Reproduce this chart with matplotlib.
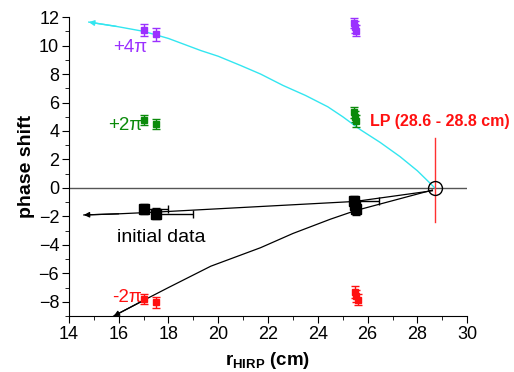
import matplotlib
matplotlib.use("Agg")
import matplotlib.pyplot as plt
from matplotlib.ticker import MultipleLocator

plt.rcParams['font.family'] = ['Liberation Sans', 'DejaVu Sans']

# ---- data ----
purple_x = [17.0, 17.5, 25.45, 25.5, 25.55]
purple_y = [11.1, 10.8, 11.6, 11.3, 11.05]
purple_e = [0.4, 0.45, 0.35, 0.4, 0.4]

green_x = [17.0, 17.5, 25.45, 25.5, 25.55]
green_y = [4.8, 4.5, 5.3, 5.0, 4.7]
green_e = [0.35, 0.35, 0.4, 0.4, 0.4]

black_x = [17.0, 17.5, 25.45, 25.5, 25.55]
black_y = [-1.5, -1.8, -0.95, -1.2, -1.5]
black_e = [0.35, 0.4, 0.35, 0.4, 0.4]
black_xerr_right = [1.0, 1.5, 1.0, 0.0, 0.0]

red_x = [17.0, 17.5, 25.5, 25.55, 25.6]
red_y = [-7.8, -8.05, -7.3, -7.6, -7.85]
red_e = [0.35, 0.4, 0.4, 0.4, 0.4]

cyan_x = [28.7, 28.0, 27.3, 26.5, 25.7, 25.0, 24.4, 23.5, 22.6, 21.7, 20.9, 20.0, 19.3, 18.0, 17.0, 15.9, 14.8]
cyan_y = [0.0, 1.2, 2.2, 3.2, 4.1, 5.0, 5.7, 6.5, 7.2, 8.0, 8.6, 9.25, 9.65, 10.5, 11.0, 11.35, 11.65]

init_x = [28.6, 25.5, 17.5, 16.0, 14.6]
init_y = [-0.2, -0.95, -1.7, -1.82, -1.9]

low_x = [28.6, 25.5, 24.5, 23.0, 21.7, 19.7, 18.0, 17.0, 15.8]
low_y = [-0.15, -1.6, -2.2, -3.2, -4.2, -5.5, -7.0, -7.9, -9.0]

lp_x = 28.7
lp_y = 0.0
lp_bar = [-2.4, 3.5]

# ---- figure ----
fig = plt.figure(figsize=(5.14, 3.72), dpi=100)
ax = fig.add_axes([0.134, 0.1505, 0.775, 0.8035])

ax.axhline(0, color='#555555', lw=1.0, zorder=1)

# cyan curve with arrow
ax.plot(cyan_x, cyan_y, color='#33e6f0', lw=1.0, zorder=2)
ax.annotate('', xy=(cyan_x[-1], cyan_y[-1]), xytext=(cyan_x[-2], cyan_y[-2]),
            arrowprops=dict(arrowstyle='-|>', color='#33e6f0', lw=1.0,
                            mutation_scale=8, shrinkA=0, shrinkB=0))

# black lines with arrows
for xs, ys in [(init_x, init_y), (low_x, low_y)]:
    ax.plot(xs, ys, color='black', lw=0.9, zorder=2)
    ax.annotate('', xy=(xs[-1], ys[-1]), xytext=(xs[-2], ys[-2]),
                arrowprops=dict(arrowstyle='-|>', color='black', lw=0.9,
                                mutation_scale=8, shrinkA=0, shrinkB=0))

# data series
ax.errorbar(purple_x, purple_y, yerr=purple_e, fmt='s', color='#9b30ff',
            ms=5, capsize=3, elinewidth=1, zorder=4)
ax.errorbar(green_x, green_y, yerr=green_e, fmt='s', color='#0a8a0a',
            ms=5, capsize=3, elinewidth=1, zorder=4)
ax.errorbar(black_x, black_y, yerr=black_e,
            xerr=[[0] * len(black_x), black_xerr_right], fmt='s', color='black',
            ms=7, capsize=3, elinewidth=1, zorder=4)
ax.errorbar(red_x, red_y, yerr=red_e, fmt='s', color='#ff1010',
            ms=5, capsize=3, elinewidth=1, zorder=4)

# LP point
ax.plot([lp_x, lp_x], lp_bar, color='#ff3030', lw=1.0, zorder=3)
ax.plot([lp_x], [lp_y], 'o', mfc='none', mec='black', ms=10, mew=1.0, zorder=5)

# texts
ax.text(16.45, 9.9, '+4π', color='#9b30ff', fontsize=13.5, ha='center', va='center')
ax.text(16.25, 4.35, '+2π', color='#0a8a0a', fontsize=13.5, ha='center', va='center')
ax.text(17.7, -3.45, 'initial data', color='black', fontsize=14, ha='center', va='center')
ax.text(16.35, -7.7, '-2π', color='#ff1010', fontsize=13.5, ha='center', va='center')
ax.text(26.1, 4.65, 'LP (28.6 - 28.8 cm)', color='#ff1010', fontsize=11.5,
        fontweight='bold', ha='left', va='center')

# axes styling
ax.set_xlim(14, 30)
ax.set_ylim(-9, 12)
ax.spines['top'].set_visible(False)
ax.spines['right'].set_visible(False)
ax.xaxis.set_major_locator(MultipleLocator(2))
ax.xaxis.set_minor_locator(MultipleLocator(1))
ax.yaxis.set_major_locator(MultipleLocator(2))
ax.yaxis.set_minor_locator(MultipleLocator(1))
ax.tick_params(which='major', direction='out', length=5, labelsize=13, pad=2)
ax.tick_params(which='minor', direction='out', length=3)

ax.set_xlabel(r'r$_{\mathregular{HIRP}}$ (cm)', fontsize=13.5, fontweight='bold')
ax.set_ylabel('phase shift', fontsize=14, fontweight='bold')
ax.yaxis.set_label_coords(-0.085, 0.5)
ax.xaxis.set_label_coords(0.5, -0.115)

fig.savefig('out.png', dpi=100)
